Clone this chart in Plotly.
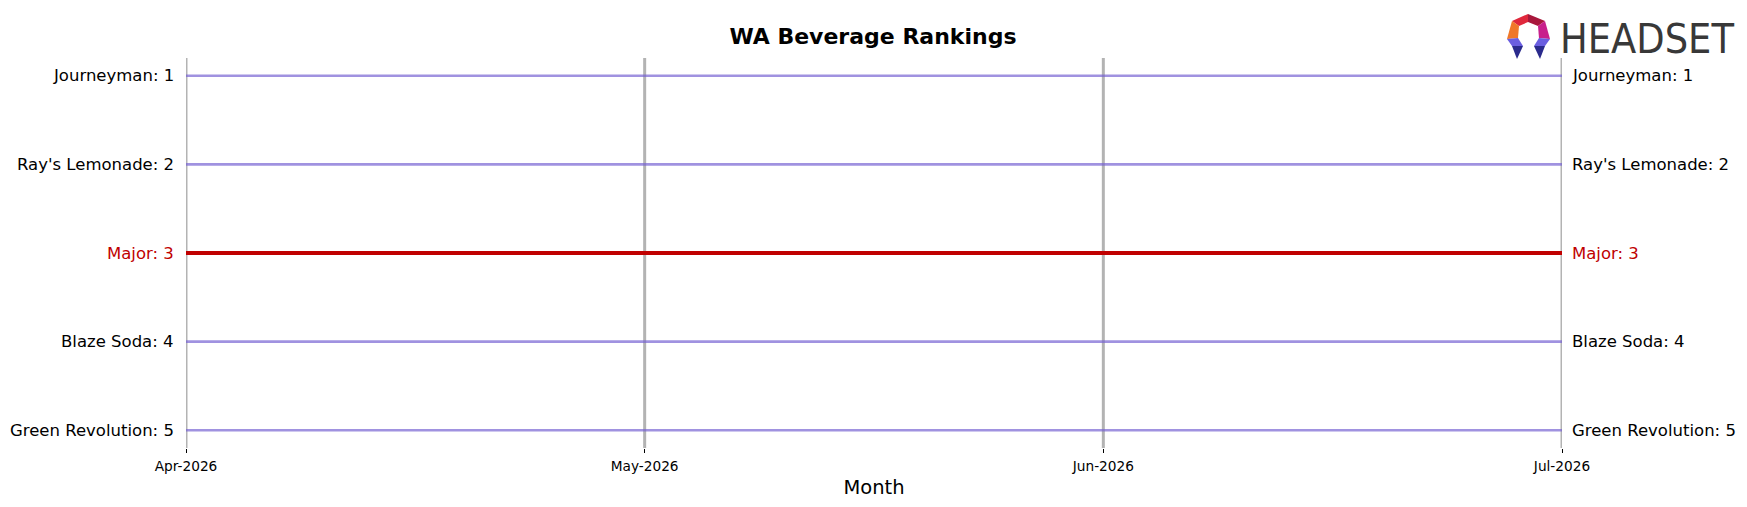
import plotly.graph_objects as go

months = ["Apr-2026", "May-2026", "Jun-2026", "Jul-2026"]
brands = ["Journeyman", "Ray's Lemonade", "Major", "Blaze Soda", "Green Revolution"]
ranks = {
    "Journeyman": [1, 1, 1, 1],
    "Ray's Lemonade": [2, 2, 2, 2],
    "Major": [3, 3, 3, 3],
    "Blaze Soda": [4, 4, 4, 4],
    "Green Revolution": [5, 5, 5, 5],
}
highlight = "Major"

# page body has an 8px margin; compensate so the plot lands where the reference has it
OFF = 8
W, H = 1747 - OFF, 507 - OFF
X0, X1, Y0, Y1 = 186, 1562, 58, 448  # plot area in window pixels
L, T = X0 - OFF, Y0 - OFF
R, B = 1747 - X1, 507 - Y1
PW, PH = X1 - X0, Y1 - Y0

PURPLE = "rgba(115,95,210,0.68)"
RED = "#c00000"
GRID = "#b3b3b3"

fig = go.Figure()

for m in months:
    fig.add_shape(type="line", xref="x", yref="paper", x0=m, x1=m, y0=0, y1=1,
                  line=dict(color=GRID, width=3), layer="below")

for b in brands:
    if b == highlight:
        continue
    fig.add_trace(go.Scatter(x=months, y=ranks[b], mode="lines",
                             line=dict(color=PURPLE, width=2.6), hoverinfo="skip"))
fig.add_trace(go.Scatter(x=months, y=ranks[highlight], mode="lines",
                         line=dict(color=RED, width=4), hoverinfo="skip"))

for b in brands:
    col = RED if b == highlight else "black"
    fig.add_annotation(x=0, xref="paper", y=ranks[b][0], yref="y", text=f"{b}: {ranks[b][0]}",
                       xanchor="right", yanchor="middle", xshift=-10, showarrow=False,
                       font=dict(family="DejaVu Sans", size=16.5, color=col))
    fig.add_annotation(x=1, xref="paper", y=ranks[b][-1], yref="y", text=f"{b}: {ranks[b][-1]}",
                       xanchor="left", yanchor="middle", xshift=8, showarrow=False,
                       font=dict(family="DejaVu Sans", size=16.5, color=col))


def px(x, y):
    return (x - X0) / PW, (Y1 - y) / PH


def poly(pts, color):
    p = [px(x, y) for x, y in pts]
    path = "M " + " L ".join(f"{a:.5f},{b:.5f}" for a, b in p) + " Z"
    fig.add_shape(type="path", path=path, xref="paper", yref="paper",
                  fillcolor=color, line=dict(width=0), layer="above")


# logo icon
poly([(1512, 21), (1528, 14), (1528, 22), (1519, 26)], "#e0283c")
poly([(1528, 14), (1545, 21), (1538, 26), (1528, 22)], "#a8173c")
poly([(1512, 21), (1519, 26), (1518, 38), (1507, 39)], "#f0782a")
poly([(1545, 21), (1550, 39), (1539, 38), (1538, 26)], "#c8208c")
poly([(1507, 39), (1518, 38), (1523, 46), (1512, 46)], "#6a5ee0")
poly([(1512, 46), (1523, 46), (1517, 59)], "#2a2a8c")
poly([(1550, 39), (1539, 38), (1534, 46), (1545, 46)], "#6a5ee0")
poly([(1545, 46), (1534, 46), (1540, 59)], "#2a2a8c")

lx, ly = px(1558, 39)
fig.add_annotation(x=lx, xref="paper", y=ly, yref="paper",
                   text="HEADSET", showarrow=False, xanchor="left", yanchor="middle",
                   font=dict(family="DejaVu Sans Condensed, Roboto", size=41, color="#383838"))

fig.update_layout(
    width=W, height=H,
    margin=dict(l=L, r=R, t=T, b=B),
    plot_bgcolor="white", paper_bgcolor="white",
    showlegend=False,
    title=dict(text="<b>WA Beverage Rankings</b>", x=(873 - OFF) / W, xref="container",
               xanchor="center", y=1 - (36 - OFF) / H, yanchor="middle",
               font=dict(family="DejaVu Sans", size=22, color="black")),
    xaxis=dict(type="category", categoryorder="array", categoryarray=months,
               range=[0, len(months) - 1], showgrid=False,
               showline=False, zeroline=False, ticks="outside", ticklen=4, tickwidth=1,
               tickcolor="black", ticklabelstandoff=2,
               tickfont=dict(family="DejaVu Sans", size=13.7, color="black"),
               title=dict(text="Month", font=dict(family="DejaVu Sans", size=19.5, color="black"),
                          standoff=6)),
    yaxis=dict(range=[5.2, 0.8], showgrid=False, showticklabels=False, zeroline=False,
               showline=False, ticks=""),
)

fig.write_html("out.html")
